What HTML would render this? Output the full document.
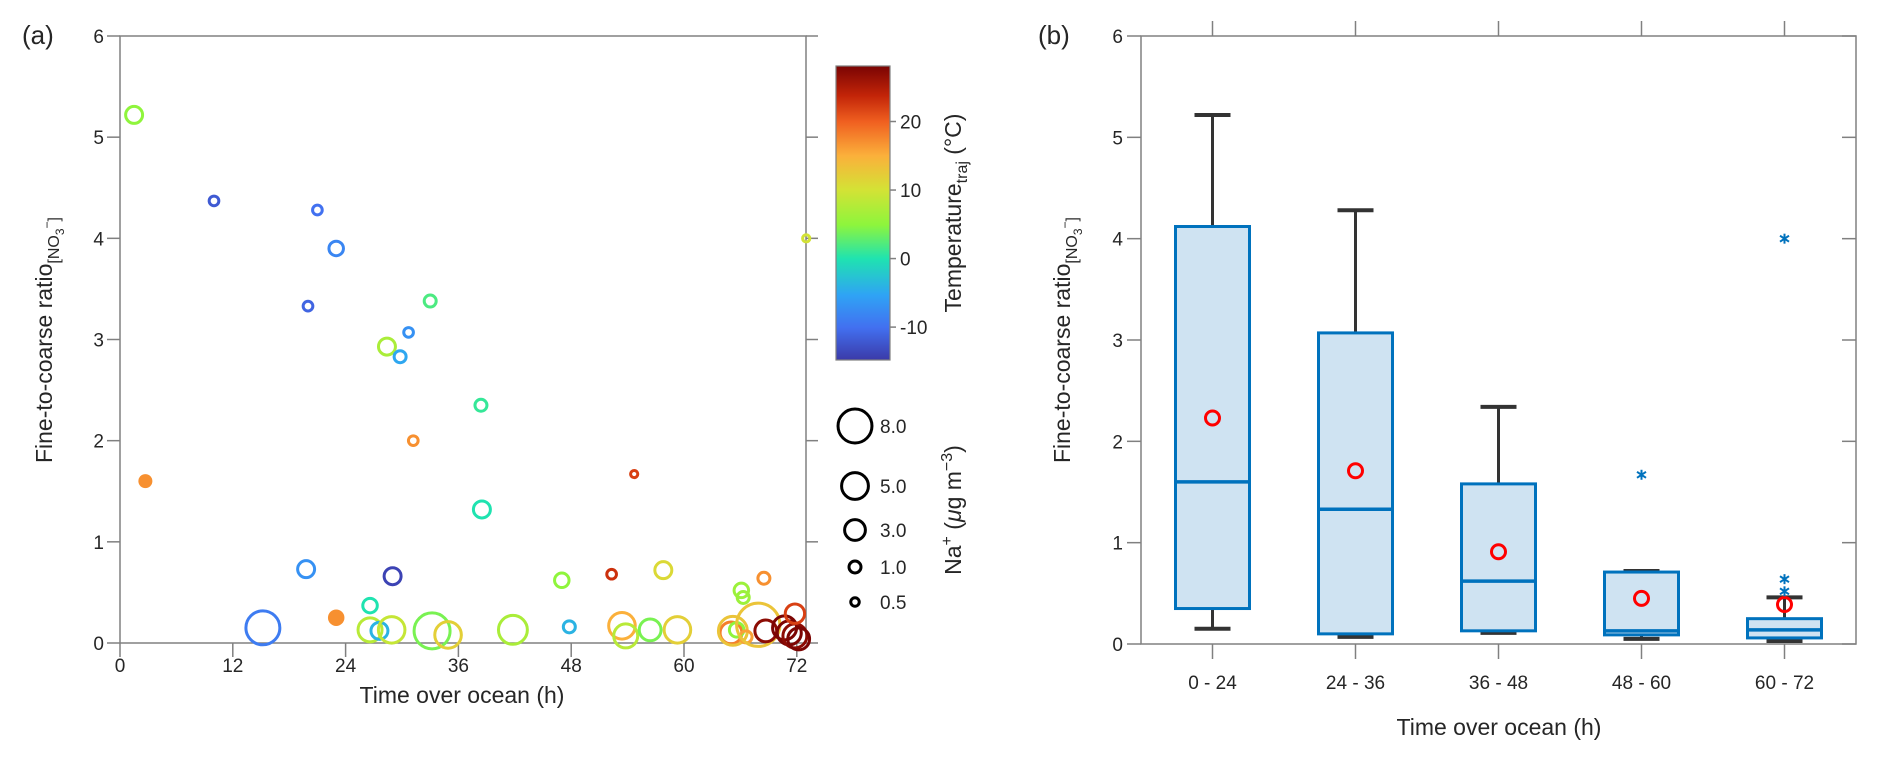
<!DOCTYPE html>
<html><head><meta charset="utf-8"><style>
html,body{margin:0;padding:0;background:#fff;}
svg{display:block;font-family:"Liberation Sans",Arial,sans-serif;}
</style></head><body>
<svg id="fig" width="1892" height="758" viewBox="0 0 1892 758">
<defs>
<linearGradient id="cmap" x1="0" y1="1" x2="0" y2="0">
<stop offset="0" stop-color="#3b3aa8"/><stop offset="0.11" stop-color="#4270f0"/><stop offset="0.22" stop-color="#2fa3f5"/><stop offset="0.345" stop-color="#1fe3b0"/><stop offset="0.46" stop-color="#8ef53c"/><stop offset="0.58" stop-color="#d4e235"/><stop offset="0.695" stop-color="#fbb03b"/><stop offset="0.81" stop-color="#f06020"/><stop offset="0.9" stop-color="#c22408"/><stop offset="1" stop-color="#7a0403"/>
</linearGradient>
</defs>
<g id="pa"></g>
<g id="pb"></g>
</svg>
<script>
// ---- Panel (a) data ----
const aTimes  = [1.5,10,21,23,20,33,30.7,28.4,29.8,38.4,31.2,2.7,38.5,54.7,73,19.8,29,47,52.3,57.8,68.5,66.1,66.3,26.6,15.2,23.0,26.6,27.6,28.9,33.2,34.9,41.8,47.8,53.4,53.8,56.4,59.3,65,65.2,65.6,66.6,67.9,68.7,70.7,71.2,71.8,72.2,71.8];
const aRatios = [5.22,4.37,4.28,3.9,3.33,3.38,3.07,2.93,2.83,2.35,2.0,1.6,1.32,1.67,4.0,0.73,0.66,0.62,0.68,0.72,0.64,0.52,0.45,0.37,0.15,0.25,0.13,0.12,0.13,0.12,0.08,0.13,0.16,0.17,0.07,0.13,0.13,0.1,0.12,0.13,0.06,0.18,0.12,0.15,0.1,0.07,0.04,0.29];
const aTemps  = [5,-12,-10,-8,-11,2,-7,7,-5,1,17,17,0,22,10,-7,-14,5,23,11,17,6,6,0,-9,17,8,-4,9,4,12,7,-4,15,8,4,12,18,13,5,16,13,27,28,28,27,28,22];
const aNa     = [2,0.65,0.65,1.46,0.65,1,0.65,2,1,1,0.65,1,2,0.36,0.36,2,2,1.46,0.65,2,1,1.46,1,1.46,8,1.46,4,2,4.9,9,4.9,5.8,1,4.9,4,3.3,4.9,3.3,5.8,1.46,1,13,3.3,4,4,4,3.3,2.6];
const aFilled = [0,0,0,0,0,0,0,0,0,0,0,1,0,0,0,0,0,0,0,0,0,0,0,0,0,1,0,0,0,0,0,0,0,0,0,0,0,0,0,0,0,0,0,0,0,0,0,0];
const aXTicks = [0,12,24,36,48,60,72];
const aYTicks = [0,1,2,3,4,5,6];
const cbTicks = [-10,0,10,20];
const naLegend = [8.0,5.0,3.0,1.0,0.5];
// ---- Panel (b) data ----
const bCats = ["0 - 24","24 - 36","36 - 48","48 - 60","60 - 72"];
const bQ1 = [0.35,0.1,0.13,0.09,0.06];
const bMed = [1.6,1.33,0.62,0.13,0.14];
const bQ3 = [4.12,3.07,1.58,0.71,0.25];
const bWLo = [0.15,0.07,0.11,0.05,0.03];
const bWHi = [5.22,4.28,2.34,0.72,0.46];
const bMean = [2.23,1.71,0.91,0.45,0.39];
const bOutCat = [3,4,4,4];
const bOutVal = [1.67,4.0,0.64,0.52];

const NS="http://www.w3.org/2000/svg";
function mk(parent,tag,attrs,text){const e=document.createElementNS(NS,tag);for(const k in attrs)e.setAttribute(k,attrs[k]);if(text!==undefined)e.textContent=text;parent.appendChild(e);return e;}

const stops=[[0,[59,58,168]],[0.11,[66,112,240]],[0.22,[47,163,245]],[0.345,[31,227,176]],[0.46,[142,245,60]],[0.58,[212,226,53]],[0.695,[251,176,59]],[0.81,[240,96,32]],[0.9,[194,36,8]],[1,[122,4,3]]];
const tMin=-14.8,tMax=28.1;
function cmap(T){let p=(T-tMin)/(tMax-tMin);p=Math.max(0,Math.min(1,p));for(let i=1;i<stops.length;i++){if(p<=stops[i][0]){const a=stops[i-1],b=stops[i];const f=(p-a[0])/(b[0]-a[0]);const c=a[1].map((v,j)=>Math.round(v+(b[1][j]-v)*f));return `rgb(${c[0]},${c[1]},${c[2]})`;}}return "rgb(122,4,3)";}

const AX="#808080",TXT="#262626";
// ---------- Panel a ----------
const pa=document.getElementById('pa');
const aL=120,aR=806,aT=36,aB=643;
const xa=t=>120+t*9.4, ya=v=>aB-v*(aB-aT)/6;
let el;
el=mk(pa,'rect',{x:aL,y:aT,width:aR-aL,height:aB-aT,fill:'none',stroke:AX,'stroke-width':1.5});


aXTicks.forEach(t=>{
  el=mk(pa,'line',{x1:xa(t),x2:xa(t),y1:aB,y2:aB+14,stroke:AX,'stroke-width':1.5});
  
  
  el=mk(pa,'text',{x:xa(t),y:aB+29,'text-anchor':'middle','font-size':19,fill:TXT},String(t));
  
  
});
aYTicks.forEach(v=>{
  el=mk(pa,'line',{x1:aL-13,x2:aL,y1:ya(v),y2:ya(v),stroke:AX,'stroke-width':1.5});
  
  
  el=mk(pa,'line',{x1:aR,x2:aR+12,y1:ya(v),y2:ya(v),stroke:AX,'stroke-width':1.5});
  
  
  el=mk(pa,'text',{x:aL-16,y:ya(v)+7,'text-anchor':'end','font-size':19,fill:TXT},String(v));
  
  
});
aTimes.forEach((t,i)=>{
  const r=6*Math.sqrt(aNa[i]);const c=cmap(aTemps[i]);
  if(aFilled[i]) el=mk(pa,'circle',{cx:xa(t),cy:ya(aRatios[i]),r:r+1,fill:c});
  else el=mk(pa,'circle',{cx:xa(t),cy:ya(aRatios[i]),r:r,fill:'none',stroke:c,'stroke-width':3});
  
  
});
const cbX=836,cbW=54,cbT=66,cbB=360;
const ycb=T=>cbB-(T-tMin)/(tMax-tMin)*(cbB-cbT);
el=mk(pa,'rect',{x:cbX,y:cbT,width:cbW,height:cbB-cbT,fill:'url(#cmap)',stroke:'#808080','stroke-width':1.2});


cbTicks.forEach(T=>{
  el=mk(pa,'line',{x1:cbX+cbW,x2:cbX+cbW+6,y1:ycb(T),y2:ycb(T),stroke:AX,'stroke-width':1.5});
  
  
  el=mk(pa,'text',{x:cbX+cbW+10,y:ycb(T)+7,'font-size':19,fill:TXT},String(T));
  
  
});
el=mk(pa,'text',{transform:'translate(961,213) rotate(-90)','text-anchor':'middle','font-size':23,fill:TXT});
el.innerHTML='Temperature<tspan font-size="16" dy="6">traj</tspan><tspan dy="-6"> (°C)</tspan>';


const legY=[426,486,530,567,602];
naLegend.forEach((n,i)=>{
  el=mk(pa,'circle',{cx:855,cy:legY[i],r:6*Math.sqrt(n),fill:'none',stroke:'#000','stroke-width':3});
  
  
  el=mk(pa,'text',{x:880,y:legY[i]+7,'font-size':19,fill:TXT},n.toFixed(1));
  
  
});
el=mk(pa,'text',{transform:'translate(961,510) rotate(-90)','text-anchor':'middle','font-size':23,fill:TXT});
el.innerHTML='Na<tspan font-size="16" dy="-9">+</tspan><tspan dy="9"> (</tspan><tspan font-style="italic">μ</tspan>g m<tspan font-size="16" dy="-9">−3</tspan><tspan dy="9">)</tspan>';


el=mk(pa,'text',{x:462,y:703,'text-anchor':'middle','font-size':23,fill:TXT},'Time over ocean (h)');


el=mk(pa,'text',{transform:'translate(52,340) rotate(-90)','text-anchor':'middle','font-size':23,fill:TXT});
el.innerHTML='Fine-to-coarse ratio<tspan font-size="16" dy="7">[NO</tspan><tspan font-size="12" dy="5">3</tspan><tspan font-size="12" dy="-13">−</tspan><tspan font-size="16" dy="8">]</tspan>';


el=mk(pa,'text',{x:22,y:44,'font-size':26,fill:TXT},'(a)');



// ---------- Panel b ----------
const pb=document.getElementById('pb');
const bL=1141,bR=1856,bT=36,bB=644;
const bStep=143;
const xb=i=>bL+bStep/2+i*bStep, yb=v=>bB-v*(bB-bT)/6;
const bw=74, cw=36;
el=mk(pb,'rect',{x:bL,y:bT,width:bR-bL,height:bB-bT,fill:'none',stroke:AX,'stroke-width':1.5});


aYTicks.forEach(v=>{
  el=mk(pb,'line',{x1:bL-14,x2:bL,y1:yb(v),y2:yb(v),stroke:AX,'stroke-width':1.5});
  
  
  el=mk(pb,'line',{x1:bR-14,x2:bR,y1:yb(v),y2:yb(v),stroke:AX,'stroke-width':1.5});
  
  
  el=mk(pb,'text',{x:bL-18,y:yb(v)+7,'text-anchor':'end','font-size':19,fill:TXT},String(v));
  
  
});
bCats.forEach((c,i)=>{
  const x=xb(i);
  el=mk(pb,'line',{x1:x,x2:x,y1:bB,y2:bB+15,stroke:AX,'stroke-width':1.5});
  
  
  el=mk(pb,'line',{x1:x,x2:x,y1:bT-15,y2:bT,stroke:AX,'stroke-width':1.5});
  
  
  el=mk(pb,'text',{x:x,y:bB+45,'text-anchor':'middle','font-size':19,fill:TXT},c);
  
  
  el=mk(pb,'line',{x1:x,x2:x,y1:yb(bQ3[i]),y2:yb(bWHi[i]),stroke:'#333','stroke-width':3});
  
  
  el=mk(pb,'line',{x1:x,x2:x,y1:yb(bQ1[i]),y2:yb(bWLo[i]),stroke:'#333','stroke-width':3});
  
  
  el=mk(pb,'line',{x1:x-cw/2,x2:x+cw/2,y1:yb(bWHi[i]),y2:yb(bWHi[i]),stroke:'#333','stroke-width':4});
  
  
  el=mk(pb,'line',{x1:x-cw/2,x2:x+cw/2,y1:yb(bWLo[i]),y2:yb(bWLo[i]),stroke:'#333','stroke-width':4});
  
  
  el=mk(pb,'rect',{x:x-bw/2,y:yb(bQ3[i]),width:bw,height:yb(bQ1[i])-yb(bQ3[i]),fill:'#cfe3f2',stroke:'#0072bd','stroke-width':3});
  
  
  el=mk(pb,'line',{x1:x-bw/2,x2:x+bw/2,y1:yb(bMed[i]),y2:yb(bMed[i]),stroke:'#0072bd','stroke-width':3.5});
  
  
  el=mk(pb,'circle',{cx:x,cy:yb(bMean[i]),r:7,fill:'none',stroke:'#ff0000','stroke-width':3});
  
  
});
bOutVal.forEach((v,k)=>{
  const x=xb(bOutCat[k]),y=yb(v);
  const g=mk(pb,'g',{stroke:'#0072bd','stroke-width':2});
  
  
  mk(g,'line',{x1:x,x2:x,y1:y-5,y2:y+5});
  mk(g,'line',{x1:x-4.5,x2:x+4.5,y1:y-3,y2:y+3});
  mk(g,'line',{x1:x-4.5,x2:x+4.5,y1:y+3,y2:y-3});
});
el=mk(pb,'text',{x:1499,y:735,'text-anchor':'middle','font-size':23,fill:TXT},'Time over ocean (h)');


el=mk(pb,'text',{transform:'translate(1070,340) rotate(-90)','text-anchor':'middle','font-size':23,fill:TXT});
el.innerHTML='Fine-to-coarse ratio<tspan font-size="16" dy="7">[NO</tspan><tspan font-size="12" dy="5">3</tspan><tspan font-size="12" dy="-13">−</tspan><tspan font-size="16" dy="8">]</tspan>';


el=mk(pb,'text',{x:1038,y:44,'font-size':26,fill:TXT},'(b)');


</script>
</body></html>
